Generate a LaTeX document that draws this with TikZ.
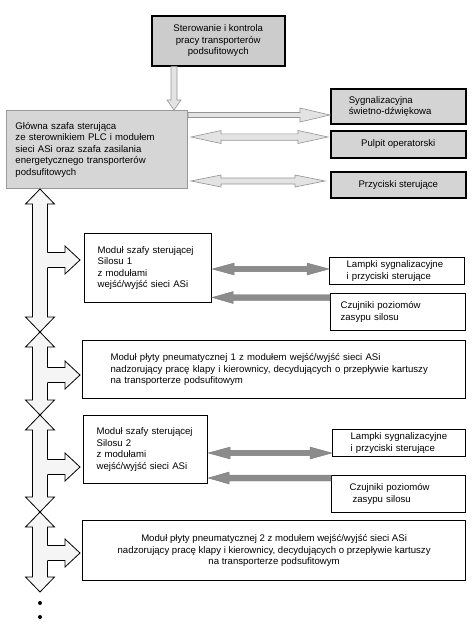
\documentclass[tikz,border=0pt]{standalone}
\usepackage{fontspec}
\setmainfont{Liberation Sans}
\usetikzlibrary{calc}
% horizontal double arrow: left tip, right tip, shaft half, head half, head length
\newcommand\hdbl[5]{let \p1=(#1),\p2=(#2) in (\x1,\y1) -- (\x1+#5,\y1+#4) -- (\x1+#5,\y1+#3) -- (\x2-#5,\y1+#3) -- (\x2-#5,\y1+#4) -- (\x2,\y1) -- (\x2-#5,\y1-#4) -- (\x2-#5,\y1-#3) -- (\x1+#5,\y1-#3) -- (\x1+#5,\y1-#4) -- cycle}
% horizontal single arrow: tail, tip
\newcommand\hsgl[5]{let \p1=(#1),\p2=(#2),\n1={sign(\x2-\x1)} in (\x1,\y1+#3) -- (\x2-\n1*#5,\y1+#3) -- (\x2-\n1*#5,\y1+#4) -- (\x2,\y1) -- (\x2-\n1*#5,\y1-#4) -- (\x2-\n1*#5,\y1-#3) -- (\x1,\y1-#3) -- cycle}
% vertical double arrow: top tip, bottom tip
\newcommand\vdbl[5]{let \p1=(#1),\p2=(#2) in (\x1,\y1) -- (\x1+#4,\y1-#5) -- (\x1+#3,\y1-#5) -- (\x1+#3,\y2+#5) -- (\x1+#4,\y2+#5) -- (\x1,\y2) -- (\x1-#4,\y2+#5) -- (\x1-#3,\y2+#5) -- (\x1-#3,\y1-#5) -- (\x1-#4,\y1-#5) -- cycle}
% vertical single arrow downwards: tail (top), tip (bottom)
\newcommand\vsgl[5]{let \p1=(#1),\p2=(#2) in (\x1-#3,\y1) -- (\x1+#3,\y1) -- (\x1+#3,\y2+#5) -- (\x1+#4,\y2+#5) -- (\x1,\y2) -- (\x1-#4,\y2+#5) -- (\x1-#3,\y2+#5) -- cycle}
% branch arrow (open at the column side)
\newcommand\brfill[5]{let \p1=(#1),\p2=(#2) in (\x1-2pt,\y1+#3) -- (\x2-#5,\y1+#3) -- (\x2-#5,\y1+#4) -- (\x2,\y1) -- (\x2-#5,\y1-#4) -- (\x2-#5,\y1-#3) -- (\x1-2pt,\y1-#3) -- cycle}
\newcommand\brline[5]{let \p1=(#1),\p2=(#2) in (\x1,\y1+#3) -- (\x2-#5,\y1+#3) -- (\x2-#5,\y1+#4) -- (\x2,\y1) -- (\x2-#5,\y1-#4) -- (\x2-#5,\y1-#3) -- (\x1,\y1-#3)}
\begin{document}
\lefthyphenmin=64
\hyphenpenalty=10000
\begin{tikzpicture}[x=1pt,y=-1pt,font=\fontsize{9.6}{11.5}\selectfont,
  box/.style={draw=black,line width=1.2pt,fill=white,inner ysep=0pt,anchor=north west,align=left},
  graybox/.style={box,fill=black!17,line width=1.6pt},
  mainbox/.style={box,fill=black!16,draw=black!40,line width=1pt},
  lt/.style={fill=black!11,draw=black!42,line width=0.6pt},
  dk/.style={fill=black!45,draw=black!52,line width=0.4pt},
  colarrow/.style={fill=black!4,draw=black,line width=0.8pt},
  colfill/.style={fill=black!4},
  colline/.style={draw=black,line width=0.8pt},
  dot/.style={circle,fill=black,inner sep=0pt,minimum size=4pt}]
\useasboundingbox (0,0) rectangle (474,630);

% boxes
\node[graybox,fill=black!20,line width=1.5pt,minimum width=133,minimum height=50,align=center] (top) at (151,15)
  {Sterowanie i kontrola\\pracy transporterów\\podsufitowych};
\node[mainbox,minimum width=181,minimum height=78,inner xsep=9,text width=163] (main) at (6,110)
  {Główna szafa sterująca\\ze sterownikiem PLC i modułem\\sieci ASi oraz szafa zasilania\\energetycznego transporterów\\podsufitowych};
\node[graybox,minimum width=135,minimum height=35,inner xsep=18,text width=99] (sig) at (330,88)
  {Sygnalizacyjna\\świetno-dźwiękowa};
\node[graybox,minimum width=135,minimum height=27,align=center] (pul) at (330,130) {Pulpit operatorski};
\node[graybox,minimum width=135,minimum height=26,align=center] (prz) at (330,171) {Przyciski sterujące};

\node[box,minimum width=127,minimum height=69,inner xsep=13,text width=101] (s1) at (84,233)
  {Moduł szafy sterującej\\Silosu 1\\z modułami\\wejść/wyjść sieci ASi};
\node[box,minimum width=135,minimum height=27,inner xsep=17,text width=101] (l1) at (329,257)
  {Lampki sygnalizacyjne\\i przyciski sterujące};
\node[box,minimum width=135,minimum height=37,inner xsep=10,text width=115] (c1) at (330,293)
  {Czujniki poziomów\\zasypu silosu};
\node[box,minimum width=383,minimum height=58,inner xsep=28,text width=327] (p1) at (82,340)
  {Moduł płyty pneumatycznej 1 z modułem wejść/wyjść sieci ASi\\nadzorujący pracę klapy i kierownicy, decydujących o przepływie kartuszy\\na transporterze podsufitowym};

\node[box,minimum width=124,minimum height=68,inner xsep=13,text width=98] (s2) at (83,415)
  {Moduł szafy sterującej\\Silosu 2\\z modułami\\wejść/wyjść sieci ASi};
\node[box,minimum width=133,minimum height=27,inner xsep=18,text width=97] (l2) at (332,429)
  {Lampki sygnalizacyjne\\i przyciski sterujące};
\node[box,minimum width=134,minimum height=37,inner xsep=18,text width=98] (c2) at (331,475)
  {Czujniki poziomów\\\hspace*{3pt}zasypu silosu};
\node[box,minimum width=383,minimum height=60,align=center] (p2) at (82,520)
  {Moduł płyty pneumatycznej 2 z modułem wejść/wyjść sieci ASi\\nadzorujący pracę klapy i kierownicy, decydujących o przepływie kartuszy\\na transporterze podsufitowym};

% top arrow
\draw[lt] \vsgl{174,0 |- top.south}{174,0 |- main.north}{3pt}{7pt}{10pt};

% arrows from main box
\draw[lt] \hsgl{main.east |- 0,115}{sig.west |- 0,115}{2.5pt}{7pt}{30pt};
\draw[lt] \hdbl{$(main.east |- 0,137)+(3,0)$}{$(pul.west |- 0,137)+(-2,0)$}{3.2pt}{6.5pt}{30pt};
\draw[lt] \hdbl{$(main.east |- 0,181)+(3,0)$}{$(prz.west |- 0,181)+(-5,0)$}{3pt}{6pt}{30pt};

% silos 1 arrows
\draw[dk] \hdbl{s1.east |- 0,269}{l1.west |- 0,269}{2.6pt}{6pt}{22pt};
\draw[dk] \hsgl{c1.west |- 0,297.5}{s1.east |- 0,297.5}{3pt}{6pt}{21pt};
% silos 2 arrows
\draw[dk] \hdbl{s2.east |- 0,453}{l2.west |- 0,453}{2.6pt}{6pt}{22pt};
\draw[dk] \hsgl{c2.west |- 0,478}{s2.east |- 0,478}{3pt}{6pt}{21pt};

% column
\coordinate (k0) at (40,0 |- main.south);
\coordinate (k1) at (40,332);
\coordinate (k2) at (40,415);
\coordinate (k3) at (40,512);
\coordinate (k4) at (40,592);
\draw[colarrow] \vdbl{k0}{k1}{7.5pt}{14.5pt}{15pt};
\draw[colarrow] \vdbl{k1}{k2}{7.5pt}{14.5pt}{15pt};
\draw[colarrow] \vdbl{k2}{k3}{7.5pt}{14.5pt}{15pt};
\draw[colarrow] \vdbl{k3}{k4}{7.5pt}{14.5pt}{15pt};

% branches
\coordinate (ba1) at (47.5,260);
\coordinate (ba2) at (47.5,375);
\coordinate (ba3) at (47.5,467);
\coordinate (ba4) at (47.5,553);
\coordinate (bt1) at ($(s1.west |- ba1)+(-4,0)$);
\coordinate (bt2) at ($(p1.west |- ba2)+(-2,0)$);
\coordinate (bt3) at ($(s2.west |- ba3)+(-3,0)$);
\coordinate (bt4) at ($(p2.west |- ba4)+(-2,0)$);
\foreach \i in {1,2,3,4}{
  \fill[colfill] \brfill{ba\i}{bt\i}{7.5pt}{14pt}{15pt};
  \draw[colline] \brline{ba\i}{bt\i}{7.5pt}{14pt}{15pt};
}

% dots
\node[dot] (d1) at (40,603) {};
\node[dot] (d2) at (40,617) {};
\end{tikzpicture}
\end{document}
